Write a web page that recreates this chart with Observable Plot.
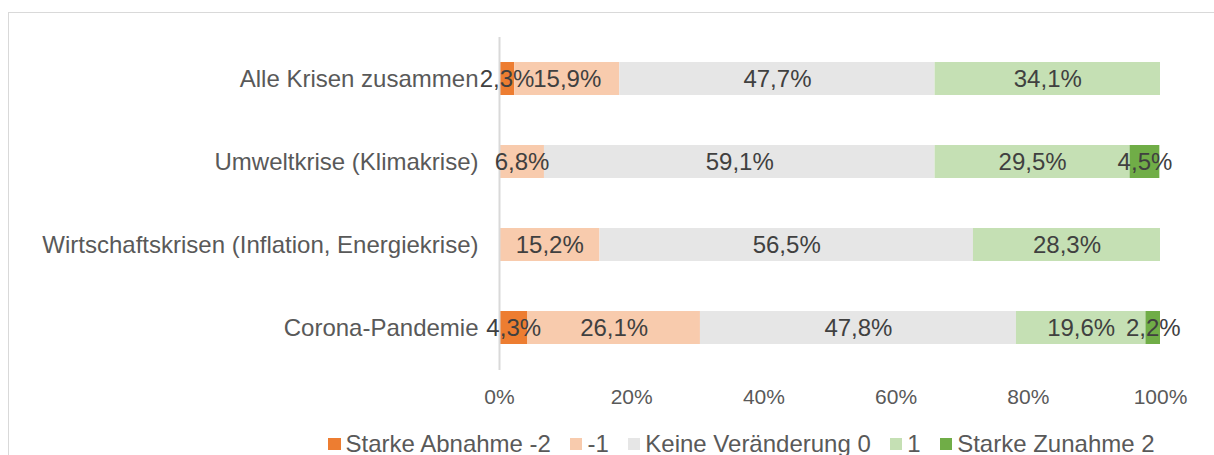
<!DOCTYPE html>
<html>
<head>
<meta charset="utf-8">
<script src="https://cdn.jsdelivr.net/npm/d3@7"></script>
<script src="https://cdn.jsdelivr.net/npm/@observablehq/plot@0.6"></script>
<style>
  html, body { margin: 0; padding: 0; overflow: hidden; background: #fff; width: 1214px; height: 455px; }
  #frame { position: absolute; left: 8px; top: 12px; width: 1300px; height: 600px; border: 1px solid #d9d9d9; box-sizing: border-box; pointer-events: none; }
  #chart { position: absolute; left: 0; top: 0; }
  #legend { position: absolute; left: 328px; top: 429px; height: 30px; display: flex; align-items: center; font-family: "Liberation Sans", Arial, sans-serif; font-size: 24px; color: #595959; white-space: nowrap; }
  .item { display: flex; align-items: center; margin-right: 19px; }
  .sw { width: 12.5px; height: 12.5px; margin-right: 5px; }
</style>
</head>
<body>
<div id="frame"></div>
<div id="chart"></div>
<div id="legend"></div>
<script>
const categories = ["Alle Krisen zusammen", "Umweltkrise (Klimakrise)", "Wirtschaftskrisen (Inflation, Energiekrise)", "Corona-Pandemie"];
const levels = ["Starke Abnahme -2", "-1", "Keine Veränderung 0", "1", "Starke Zunahme 2"];
const colors = ["#ED7D31", "#F8CBAD", "#E6E6E6", "#C5E0B4", "#70AD47"];
const starkeAbnahme = [2.3, 0, 0, 4.3];
const minus1 = [15.9, 6.8, 15.2, 26.1];
const keineVeraenderung = [47.7, 59.1, 56.5, 47.8];
const plus1 = [34.1, 29.5, 28.3, 19.6];
const starkeZunahme = [0, 4.5, 0, 2.2];
const xTicks = [0, 20, 40, 60, 80, 100];

const series = [starkeAbnahme, minus1, keineVeraenderung, plus1, starkeZunahme];
const rows = [];
categories.forEach((c, i) => {
  series.forEach((s, j) => {
    if (s[i] > 0) rows.push({cat: c, level: levels[j], value: s[i]});
  });
});

const fmt = v => v.toFixed(1).replace(".", ",") + "%";

const stackOpts = {x: "value", y: "cat", z: "level", order: levels};

const chart = Plot.plot({
  width: 1214,
  height: 425,
  marginLeft: 499,
  marginRight: 54,
  marginTop: 37,
  marginBottom: 55,
  style: {fontFamily: "'Liberation Sans', Arial, sans-serif", color: "#595959", background: "transparent", overflow: "visible"},
  x: {domain: [0, 100], ticks: xTicks},
  y: {domain: categories, paddingInner: 0.6, paddingOuter: 0.3},
  color: {domain: levels, range: colors},
  marks: [
    Plot.barX(rows, Plot.stackX({...stackOpts, fill: "level"})),
    Plot.ruleX([0], {stroke: "#d9d9d9", strokeWidth: 2}),
    Plot.text(rows, Plot.stackX({...stackOpts, text: d => fmt(d.value), fill: "#404040", fontSize: 24})),
    Plot.axisX({ticks: xTicks, tickFormat: d => d + "%", tickSize: 0, tickPadding: 19, fontSize: 21, label: null}),
    Plot.axisY({tickSize: 0, tickPadding: 21, fontSize: 24, label: null})
  ]
});
document.getElementById("chart").appendChild(chart);

const legend = document.getElementById("legend");
levels.forEach((l, i) => {
  const item = document.createElement("div");
  item.className = "item";
  const sw = document.createElement("div");
  sw.className = "sw";
  sw.style.background = colors[i];
  const t = document.createElement("span");
  t.textContent = l;
  item.appendChild(sw);
  item.appendChild(t);
  legend.appendChild(item);
});
</script>
</body>
</html>
